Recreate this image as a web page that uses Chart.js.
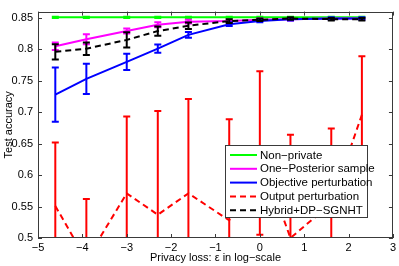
<!DOCTYPE html>
<html>
<head>
<meta charset="utf-8">
<script src="https://cdn.jsdelivr.net/npm/chart.js@4.4.0/dist/chart.umd.min.js"></script>
<style>
  html, body { margin: 0; padding: 0; background: #fff; }
</style>
</head>
<body>
<canvas id="myChart" width="399" height="266"></canvas>
<script>
// epsilon values 0.01 .. 10, shown as ln(eps)
const epsLog = [-4.61, -3.91, -3.00, -2.30, -1.61, -0.69, 0, 0.69, 1.61, 2.30];

const nonPrivate = [0.851, 0.851, 0.851, 0.851, 0.851, 0.851, 0.851, 0.851, 0.851, 0.851];
const nonPrivateErr = [0.001, 0.001, 0.001, 0.001, 0.001, 0.001, 0.001, 0.001, 0.001, 0.001];

const onePosterior = [0.805, 0.816, 0.829, 0.839, 0.844, 0.845, 0.847, 0.848, 0.849, 0.849];
const onePosteriorErr = [0.006, 0.008, 0.004, 0.004, 0.003, 0.002, 0.002, 0.002, 0.001, 0.001];

const objective = [0.728, 0.753, 0.780, 0.801, 0.823, 0.840, 0.845, 0.848, 0.849, 0.849];
const objectiveErr = [0.043, 0.024, 0.013, 0.0065, 0.0045, 0.003, 0.002, 0.002, 0.002, 0.002];

const output = [0.551, 0.465, 0.571, 0.537, 0.571, 0.528, 0.635, 0.500, 0.555, 0.696];
const outputErr = [0.101, 0.097, 0.122, 0.165, 0.150, 0.161, 0.130, 0.164, 0.119, 0.093];

const hybrid = [0.796, 0.801, 0.815, 0.829, 0.8375, 0.845, 0.847, 0.849, 0.848, 0.848];
const hybridErr = [0.012, 0.010, 0.012, 0.0075, 0.005, 0.003, 0.002, 0.002, 0.002, 0.002];

const seriesNames = ['Non\u2212private', 'One\u2212Posterior sample', 'Objective perturbation', 'Output perturbation', 'Hybrid+DP\u2212SGNHT'];
const xTicks = [-5, -4, -3, -2, -1, 0, 1, 2, 3];
const yTicks = [0.5, 0.55, 0.6, 0.65, 0.7, 0.75, 0.8, 0.85];

const FONT = "'Liberation Sans', Arial, sans-serif";
const AXIS_COLOR = '#3a3a3a';

function pts(ys){
    return epsLog.map((x, i) => ({x: x, y: ys[i]}));
}

function fmt(v){
    return v < 0 ? '\u2212' + Math.abs(v) : String(v);
}

function makeSet(name, ys, err, color, dashed, order){
    return {
        label: name,
        data: pts(ys),
        err: err,
        borderColor: color,
        backgroundColor: color,
        borderWidth: 2,
        borderDash: dashed ? [6, 4] : [],
        pointRadius: 0,
        tension: 0,
        fill: false,
        order: order
    };
}

// vertical error bars with caps, drawn right after each line
const errorBars = {
    id: 'errorBars',
    afterDatasetDraw(chart, args){
        const ds = chart.data.datasets[args.index];
        if (!ds.err) return;
        const ctx = chart.ctx, a = chart.chartArea;
        const xs = chart.scales.x, ys = chart.scales.y;
        ctx.save();
        ctx.beginPath();
        ctx.rect(a.left, a.top, a.right - a.left, a.bottom - a.top);
        ctx.clip();
        ctx.strokeStyle = ds.borderColor;
        ctx.lineWidth = 2;
        ctx.setLineDash([]);
        ds.data.forEach((p, i) => {
            const px = xs.getPixelForValue(p.x);
            const top = ys.getPixelForValue(p.y + ds.err[i]);
            const bot = ys.getPixelForValue(p.y - ds.err[i]);
            ctx.beginPath();
            ctx.moveTo(px, top); ctx.lineTo(px, bot);
            ctx.moveTo(px - 3.5, top); ctx.lineTo(px + 3.5, top);
            ctx.moveTo(px - 3.5, bot); ctx.lineTo(px + 3.5, bot);
            ctx.stroke();
        });
        ctx.restore();
    }
};

// box, inward ticks on all sides, and the legend inside the plot
const frameAndLegend = {
    id: 'frameAndLegend',
    afterDraw(chart){
        const ctx = chart.ctx, a = chart.chartArea;
        const xs = chart.scales.x, ys = chart.scales.y;
        ctx.save();
        ctx.strokeStyle = AXIS_COLOR;
        ctx.lineWidth = 1;
        ctx.strokeRect(Math.round(a.left) + 0.5, Math.round(a.top) + 0.5,
            Math.round(a.right - a.left) - 1, Math.round(a.bottom - a.top) - 1);
        ctx.beginPath();
        xs.ticks.forEach(t => {
            const px = Math.round(xs.getPixelForValue(t.value)) + 0.5;
            ctx.moveTo(px, a.bottom); ctx.lineTo(px, a.bottom - 4);
            ctx.moveTo(px, a.top); ctx.lineTo(px, a.top + 4);
        });
        ys.ticks.forEach(t => {
            const py = Math.round(ys.getPixelForValue(t.value)) + 0.5;
            ctx.moveTo(a.left, py); ctx.lineTo(a.left + 4, py);
            ctx.moveTo(a.right, py); ctx.lineTo(a.right - 4, py);
        });
        ctx.stroke();

        // legend
        const lx = 225.5, ly = 145.5, lw = 142, lh = 72;
        ctx.fillStyle = '#fff';
        ctx.fillRect(lx, ly, lw, lh);
        ctx.strokeStyle = AXIS_COLOR;
        ctx.strokeRect(lx, ly, lw, lh);
        ctx.font = '11.5px ' + FONT;
        ctx.textBaseline = 'middle';
        ctx.textAlign = 'left';
        const sets = chart.data.datasets;
        sets.forEach((ds, i) => {
            const ry = 155 + i * 13.8;
            ctx.beginPath();
            ctx.strokeStyle = ds.borderColor;
            ctx.lineWidth = 2;
            ctx.setLineDash(ds.borderDash);
            ctx.moveTo(230, ry); ctx.lineTo(257, ry);
            ctx.stroke();
            ctx.setLineDash([]);
            ctx.fillStyle = '#000';
            ctx.fillText(ds.label, 260, ry + 0.5);
        });
        ctx.restore();
    }
};

new Chart('myChart', {
    type: 'line',
    data: {
        datasets: [
            makeSet(seriesNames[0], nonPrivate, nonPrivateErr, '#00ff00', false, 5),
            makeSet(seriesNames[1], onePosterior, onePosteriorErr, '#ff00ff', false, 4),
            makeSet(seriesNames[2], objective, objectiveErr, '#0000ff', false, 3),
            makeSet(seriesNames[3], output, outputErr, '#ff0000', true, 2),
            makeSet(seriesNames[4], hybrid, hybridErr, '#000000', true, 1)
        ]
    },
    options: {
        responsive: false,
        animation: false,
        devicePixelRatio: 1,
        layout: { padding: { top: 0, right: 4, left: 0, bottom: 0 } },
        scales: {
            x: {
                type: 'linear',
                min: -5,
                max: 3,
                afterBuildTicks: s => { s.ticks = xTicks.map(v => ({value: v})); },
                afterFit: s => { s.height = 28; },
                grid: { display: false, drawTicks: false },
                border: { display: false },
                ticks: {
                    padding: 3,
                    color: '#000',
                    font: { family: FONT, size: 11 },
                    maxRotation: 0,
                    autoSkip: false,
                    callback: v => fmt(v)
                },
                title: {
                    display: true,
                    text: 'Privacy loss: \u03b5 in log\u2212scale',
                    color: '#000',
                    font: { family: FONT, size: 11 },
                    padding: { top: 0, bottom: 1 }
                }
            },
            y: {
                type: 'linear',
                min: 0.5,
                max: 0.86,
                afterBuildTicks: s => { s.ticks = yTicks.map(v => ({value: v})); },
                afterFit: s => { s.width = 38; },
                grid: { display: false, drawTicks: false },
                border: { display: false },
                ticks: {
                    padding: 5,
                    color: '#000',
                    font: { family: FONT, size: 11 },
                    autoSkip: false,
                    callback: v => fmt(v)
                },
                title: {
                    display: true,
                    text: 'Test accuracy',
                    color: '#000',
                    font: { family: FONT, size: 11 },
                    padding: { top: 2, bottom: 0 }
                }
            }
        },
        plugins: {
            legend: { display: false },
            tooltip: { enabled: false }
        }
    },
    plugins: [errorBars, frameAndLegend]
});
</script>
</body>
</html>
